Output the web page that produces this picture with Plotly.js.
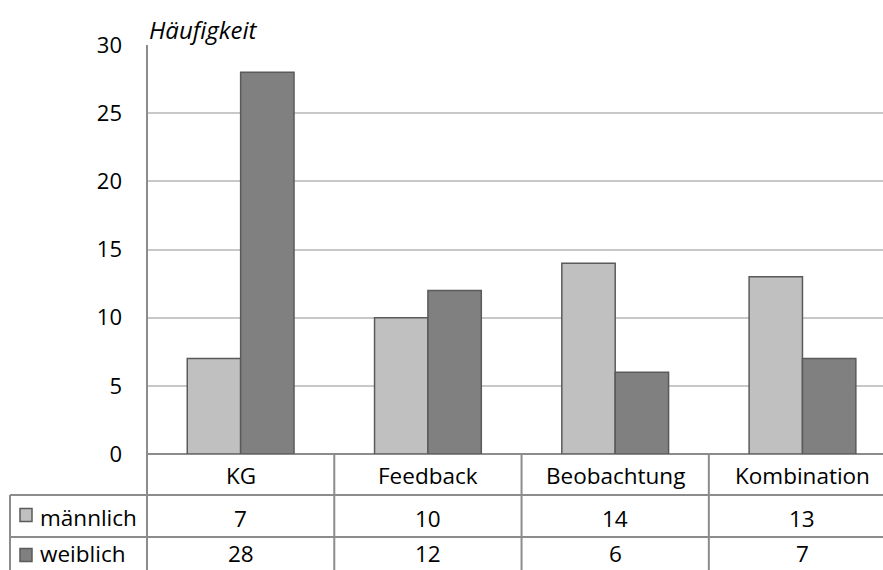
<!DOCTYPE html>
<html>
<head>
<meta charset="utf-8">
<script src="https://cdn.plot.ly/plotly-3.0.1.min.js"></script>
<style>html,body{margin:0;padding:0;background:#fff;}#chart{width:883px;height:570px;}</style>
</head>
<body>
<div id="chart"></div>
<script>
var categories = ["KG", "Feedback", "Beobachtung", "Kombination"];
var seriesNames = ["männlich", "weiblich"];
var maennlich = [7, 10, 14, 13];
var weiblich = [28, 12, 6, 7];
var seriesColors = ["#c0c0c0", "#808080"];
var yTicks = [0, 5, 10, 15, 20, 25, 30];

var FONT = "Open Sans, sans-serif";
var FS = 22.5;
var lineColor = "#8c8c8c";
var outline = "#5a5a5a";
var seriesValues = [maennlich, weiblich];

var traces = seriesValues.map(function (vals, i) {
  return {
    type: "bar",
    name: seriesNames[i],
    x: categories.map(function (c, j) { return j; }),
    y: vals,
    marker: { color: seriesColors[i], line: { color: outline, width: 1.5 } },
    hoverinfo: "skip"
  };
});

var H = 409;
function py(p) { return (454 - p) / H; }
var row1 = py(495), row2 = py(537), bottom = py(575);

var shapes = [];
var annotations = [];
shapes.push({ type: "line", xref: "paper", yref: "paper", x0: -137 / 736, x1: 1.02, y0: row1, y1: row1, line: { color: lineColor, width: 2 } });
shapes.push({ type: "line", xref: "paper", yref: "paper", x0: -137 / 736, x1: 1.02, y0: row2, y1: row2, line: { color: lineColor, width: 2 } });
shapes.push({ type: "line", xref: "paper", yref: "paper", x0: -137 / 736, x1: -137 / 736, y0: row1, y1: bottom, line: { color: lineColor, width: 2 } });
shapes.push({ type: "line", xref: "paper", yref: "paper", x0: 0, x1: 0, y0: 1, y1: bottom, line: { color: lineColor, width: 2 } });
for (var k = 0; k < categories.length; k++) {
  shapes.push({ type: "line", xref: "x", yref: "paper", x0: k + 0.5, x1: k + 0.5, y0: 0, y1: bottom, line: { color: lineColor, width: 2 } });
}
categories.forEach(function (c, j) {
  annotations.push({ xref: "x", yref: "paper", x: j, y: py(475), text: c, showarrow: false, font: { family: FONT, size: FS, color: "#000" }, xanchor: "center", yanchor: "middle" });
  seriesValues.forEach(function (vals, i) {
    annotations.push({ xref: "x", yref: "paper", x: j, y: py(i === 0 ? 518 : 553), text: String(vals[j]), showarrow: false, font: { family: FONT, size: FS, color: "#000" }, xanchor: "center", yanchor: "middle" });
  });
});
seriesNames.forEach(function (n, i) {
  var cy = i === 0 ? 515 : 555;
  shapes.push({ type: "rect", xref: "paper", yref: "paper", x0: -127 / 736, x1: -115 / 736, y0: py(cy - 6.5), y1: py(cy + 6.5), fillcolor: seriesColors[i], line: { color: outline, width: 1.5 } });
  annotations.push({ xref: "paper", yref: "paper", x: -109 / 736, y: py(i === 0 ? 517 : 553), text: n, showarrow: false, font: { family: FONT, size: FS, color: "#000" }, xanchor: "left", yanchor: "middle" });
});
annotations.push({ xref: "paper", yref: "paper", x: 0 / 736, y: py(29), text: "<i>Häufigkeit</i>", showarrow: false, font: { family: FONT, size: 24, color: "#000" }, xanchor: "left", yanchor: "middle" });

var layout = {
  width: 883, height: 570,
  margin: { l: 147, r: 0, t: 45, b: 116, pad: 0 },
  paper_bgcolor: "#fff", plot_bgcolor: "#fff",
  showlegend: false,
  barmode: "group", bargap: 0.43, bargroupgap: 0,
  xaxis: { range: [-0.5, 3.43], showticklabels: false, ticks: "", showgrid: false, zeroline: false, showline: false, fixedrange: true },
  yaxis: {
    range: [0, 30], tickvals: yTicks, ticktext: yTicks.map(String), showgrid: true, gridcolor: "#c8c8c8", gridwidth: 2,
    zeroline: true, zerolinecolor: lineColor, zerolinewidth: 2, showline: false, ticks: "", ticklen: 0,
    tickfont: { family: FONT, size: 22, color: "#000" }, ticklabelstandoff: 24, fixedrange: true
  },
  shapes: shapes,
  annotations: annotations,
  font: { family: FONT }
};

Plotly.newPlot("chart", traces, layout, { displayModeBar: false, staticPlot: true });
</script>
</body>
</html>
